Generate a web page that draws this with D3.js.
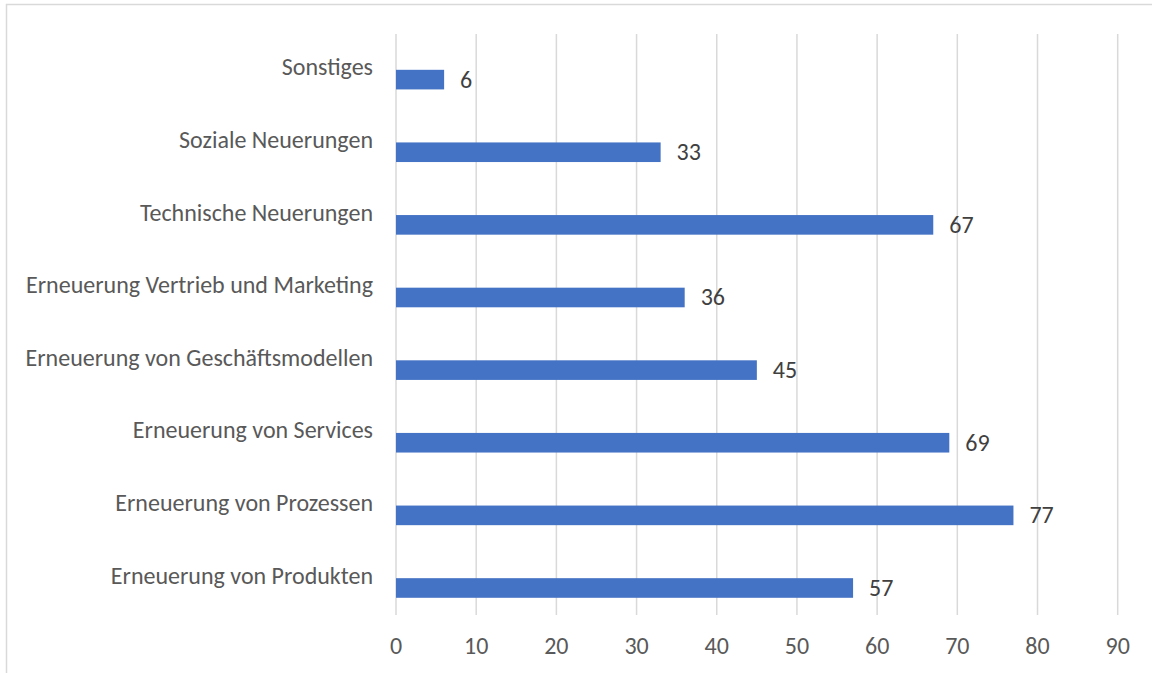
<!DOCTYPE html>
<html>
<head>
<meta charset="utf-8">
<script src="https://cdn.jsdelivr.net/npm/d3@7"></script>
<style>
  body { margin: 0; background: #fff; overflow: hidden; }
  #chartContainer { width: 1152px; height: 673px; }
  text { font-family: Calibri, Carlito, Lato, sans-serif; }
</style>
</head>
<body>
<div id="chartContainer" class="chartContainer"></div>
<script>
// categories from top to bottom, as in the chart
var categories = [
    "Sonstiges",
    "Soziale Neuerungen",
    "Technische Neuerungen",
    "Erneuerung Vertrieb und Marketing",
    "Erneuerung von Geschäftsmodellen",
    "Erneuerung von Services",
    "Erneuerung von Prozessen",
    "Erneuerung von Produkten"
];
var values = [6, 33, 67, 36, 45, 69, 77, 57];
var tickValues = [0, 10, 20, 30, 40, 50, 60, 70, 80, 90];

var width;
var height;
var svg;
var scaleX;
var scaleY;
var fontSize;

renderSVG();

function renderSVG(){
    width = document.getElementById("chartContainer").offsetWidth;
    height = document.getElementById("chartContainer").offsetHeight;

    svg = d3.select(".chartContainer")
        .append("svg")
        .attr("width", width)
        .attr("height", height);

    // chart area border (right and bottom edges run off the page)
    svg.append("rect")
        .attr("x", 6.5)
        .attr("y", 4.5)
        .attr("width", width + 20)
        .attr("height", height + 20)
        .attr("fill", "none")
        .attr("stroke", "#d9d9d9")
        .attr("stroke-width", 1.5);

    scaleX = d3.scaleLinear()
        .domain([0, 90])
        .range([396, 1117.7]);

    scaleY = d3.scaleBand()
        .domain(categories)
        .range([34, 615])
        .padding(0);

    fontSize = fitFontSize();

    // vertical gridlines
    svg.append("g")
        .selectAll("line")
        .data(tickValues)
        .enter()
        .append("line")
        .attr("x1", function(d){ return scaleX(d); })
        .attr("x2", function(d){ return scaleX(d); })
        .attr("y1", 34)
        .attr("y2", 615)
        .attr("stroke", "#d9d9d9")
        .attr("stroke-width", 1.5);

    // tick labels
    svg.append("g")
        .selectAll("text")
        .data(tickValues)
        .enter()
        .append("text")
        .attr("x", function(d){ return scaleX(d); })
        .attr("y", 654)
        .attr("text-anchor", "middle")
        .attr("fill", "#595959")
        .style("font-size", fontSize + "px")
        .text(function(d){ return d; });

    var barHeight = scaleY.bandwidth() * 0.27;

    // bars sit in the lower half of each band (Excel style)
    svg.append("g")
        .selectAll("rect")
        .data(values)
        .enter()
        .append("rect")
        .attr("x", scaleX(0))
        .attr("y", function(d, i){ return barCenter(i) - barHeight / 2; })
        .attr("width", function(d){ return scaleX(d) - scaleX(0); })
        .attr("height", barHeight)
        .attr("fill", "#4472c4");

    // value labels
    svg.append("g")
        .selectAll("text")
        .data(values)
        .enter()
        .append("text")
        .attr("x", function(d){ return scaleX(d) + 16; })
        .attr("y", function(d, i){ return barCenter(i) + 8; })
        .attr("fill", "#404040")
        .style("font-size", fontSize + "px")
        .text(function(d){ return d; });

    // category labels
    svg.append("g")
        .selectAll("text")
        .data(categories)
        .enter()
        .append("text")
        .attr("x", 373)
        .attr("y", function(d){ return scaleY(d) + scaleY.bandwidth() / 2 + 5; })
        .attr("text-anchor", "end")
        .attr("fill", "#595959")
        .style("font-size", fontSize + "px")
        .text(function(d){ return d; });
}

function barCenter(i){
    return scaleY(categories[i]) + scaleY.bandwidth() / 2 + 9.3;
}

// the longest label spans about 348px in the original
function fitFontSize(){
    var probe = svg.append("text")
        .style("font-size", "24px")
        .text("Erneuerung von Geschäftsmodellen");
    var len = probe.node().getComputedTextLength();
    probe.remove();
    return Math.min(24, 24 * 348 / len);
}
</script>
</body>
</html>
